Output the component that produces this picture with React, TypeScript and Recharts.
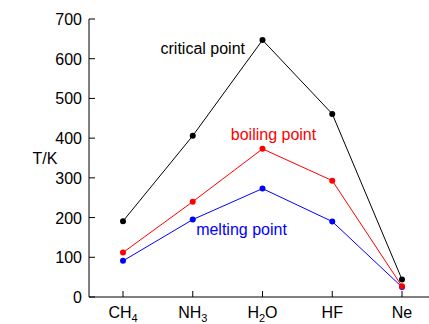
import { LineChart, Line, XAxis, YAxis, ReferenceDot } from 'recharts'

const compounds = ['CH4', 'NH3', 'H2O', 'HF', 'Ne']
const criticalPoint = [191, 406, 647, 461, 44]
const boilingPoint = [112, 240, 373, 293, 27]
const meltingPoint = [91, 195, 273, 190, 25]
const yTicks = [0, 100, 200, 300, 400, 500, 600, 700]

// label name, [base, subscript, rest]
const tickParts: Record<string, [string, string, string]> = {
  CH4: ['CH', '4', ''],
  NH3: ['NH', '3', ''],
  H2O: ['H', '2', 'O'],
  HF: ['HF', '', ''],
  Ne: ['Ne', '', ''],
}

const font = '"Liberation Sans", Arial, Helvetica, sans-serif'

const data = compounds.map((name, i) => ({
  name,
  critical: criticalPoint[i],
  boiling: boilingPoint[i],
  melting: meltingPoint[i],
}))

const BottomTick = (props: any) => {
  const { x, y, payload } = props
  const [base, sub, rest] = tickParts[payload.value]
  return (
    <g>
      <line x1={x} y1={y} x2={x} y2={y - 6} stroke="#000" strokeWidth={1} />
      <text x={x} y={y + 21} textAnchor="middle" fontSize={16} fontFamily={font} fill="#000">
        {base}
        {sub && (
          <tspan fontSize={11} dy={4}>
            {sub}
          </tspan>
        )}
        {rest && <tspan dy={sub ? -4 : 0}>{rest}</tspan>}
      </text>
    </g>
  )
}

const TopTick = (props: any) => {
  const { x, y } = props
  return <line x1={x} y1={y} x2={x} y2={y + 6} stroke="#000" strokeWidth={1} />
}

const LeftTick = (props: any) => {
  const { x, y, payload } = props
  return (
    <g>
      <line x1={x} y1={y} x2={x + 6} y2={y} stroke="#000" strokeWidth={1} />
      <text x={x - 7} y={y + 6} textAnchor="end" fontSize={16} fontFamily={font} fill="#000">
        {payload.value}
      </text>
    </g>
  )
}

const textShape = (label: string, color: string, dx: number) => (p: any) => (
  <text x={p.cx + dx} y={p.cy + 6} textAnchor="middle" fontSize={16} fontFamily={font} fill={color}>
    {label}
  </text>
)

export default function App() {
  return (
    <div style={{ position: 'absolute', left: 0, top: 0, width: 429, height: 324, background: '#fff' }}>
      <LineChart width={429} height={324} data={data} margin={{ top: 19, right: 0, bottom: 0, left: 0 }}>
        <XAxis
          dataKey="name"
          xAxisId="bottom"
          padding={{ left: 34, right: 27 }}
          height={27}
          tickSize={0}
          tickMargin={0}
          tickLine={false}
          axisLine={{ stroke: '#000', strokeWidth: 1 }}
          tick={<BottomTick />}
          interval={0}
        />
        <XAxis
          dataKey="name"
          xAxisId="top"
          orientation="top"
          padding={{ left: 34, right: 27 }}
          height={0}
          tickSize={0}
          tickMargin={0}
          tickLine={false}
          axisLine={{ stroke: '#000', strokeWidth: 1 }}
          tick={<TopTick />}
          interval={0}
        />
        <YAxis
          width={89}
          domain={[0, 700]}
          ticks={yTicks}
          tickSize={0}
          tickMargin={0}
          tickLine={false}
          axisLine={{ stroke: '#000', strokeWidth: 1 }}
          tick={<LeftTick />}
          interval={0}
          label={{
            content: () => (
              <text x={45} y={164} textAnchor="middle" fontSize={16} fontFamily={font} fill="#000">
                T/K
              </text>
            ),
          }}
        />
        <Line
          xAxisId="bottom"
          type="linear"
          dataKey="critical"
          stroke="#000"
          strokeWidth={1}
          dot={{ r: 3, fill: '#000', stroke: '#000', strokeWidth: 0 }}
          isAnimationActive={false}
        />
        <Line
          xAxisId="bottom"
          type="linear"
          dataKey="melting"
          stroke="#0000ff"
          strokeWidth={1}
          dot={{ r: 3, fill: '#0000ff', stroke: '#0000ff', strokeWidth: 0 }}
          isAnimationActive={false}
        />
        <Line
          xAxisId="bottom"
          type="linear"
          dataKey="boiling"
          stroke="#ff0000"
          strokeWidth={1}
          dot={{ r: 3, fill: '#ff0000', stroke: '#ff0000', strokeWidth: 0 }}
          isAnimationActive={false}
        />
        <ReferenceDot xAxisId="bottom" x="NH3" y={627} r={0} shape={textShape('critical point', '#000', 10)} />
        <ReferenceDot xAxisId="bottom" x="H2O" y={410} r={0} shape={textShape('boiling point', '#ff0000', 11)} />
        <ReferenceDot xAxisId="bottom" x="H2O" y={170} r={0} shape={textShape('melting point', '#0000ff', -21)} />
      </LineChart>
    </div>
  )
}
